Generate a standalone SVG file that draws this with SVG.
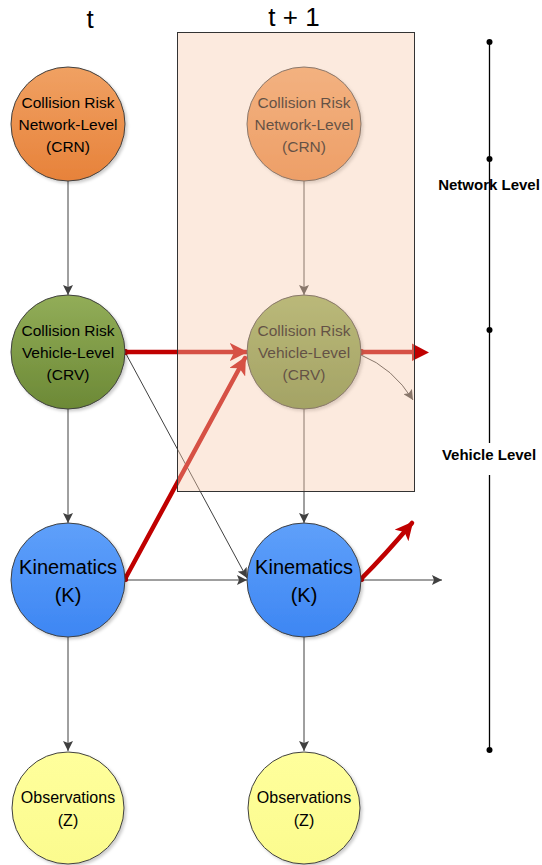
<svg xmlns="http://www.w3.org/2000/svg" width="542" height="865" viewBox="0 0 542 865">
<style>
.lbl{font-family:"Liberation Sans",Arial,sans-serif;fill:#000;text-anchor:middle}
.n{font-size:15.5px}
.k{font-size:20px}
.o{font-size:16px}
.hdr{font-size:26px}
.lvl{font-family:"Liberation Sans",Arial,sans-serif;font-weight:bold;font-size:15px;text-anchor:middle;fill:#000}
.node{stroke:#404040;stroke-width:1;filter:url(#sh)}
.thin{stroke:#404040;stroke-width:1;fill:none;marker-end:url(#ah)}
.red{stroke:#C00000;stroke-width:4.5;fill:none;stroke-linecap:round}
</style>
<defs>
<linearGradient id="gO" x1="0" y1="0" x2="0" y2="1"><stop offset="0" stop-color="#F0A163"/><stop offset="1" stop-color="#E7823A"/></linearGradient>
<linearGradient id="gG" x1="0" y1="0" x2="0" y2="1"><stop offset="0" stop-color="#92AD58"/><stop offset="1" stop-color="#6C8936"/></linearGradient>
<linearGradient id="gB" x1="0" y1="0" x2="0" y2="1"><stop offset="0" stop-color="#5FA0FA"/><stop offset="1" stop-color="#3D86F3"/></linearGradient>
<linearGradient id="gY" x1="0" y1="0" x2="0" y2="1"><stop offset="0" stop-color="#FFFF9C"/><stop offset="1" stop-color="#FBFB8E"/></linearGradient>
<filter id="sh" x="-20%" y="-20%" width="140%" height="140%"><feDropShadow dx="2" dy="2" stdDeviation="1.5" flood-color="#000" flood-opacity="0.2"/></filter>
<marker id="ah" viewBox="0 0 10 10" refX="10" refY="5" markerWidth="10" markerHeight="10" markerUnits="userSpaceOnUse" orient="auto"><path d="M0,0 L10,5 L0,10 L2,5 z" fill="#404040"/></marker>
<marker id="rh" viewBox="0 0 10 10" refX="9" refY="5" markerWidth="4" markerHeight="4" orient="auto"><path d="M0,0 L10,5 L0,10 L2.5,5 z" fill="#C00000"/></marker>
<marker id="rs" viewBox="0 0 10 10" refX="5" refY="5" markerWidth="1.4" markerHeight="1.4"><circle cx="5" cy="5" r="5" fill="#C00000"/></marker>
</defs>
<rect width="542" height="865" fill="#fff"/>

<text class="lbl hdr" x="90" y="28">t</text>
<text class="lbl hdr" x="294" y="26">t + 1</text>

<g id="connectors">
<line class="thin" x1="68" y1="181" x2="68" y2="295"/>
<line class="thin" x1="68" y1="409" x2="68" y2="523"/>
<line class="thin" x1="68" y1="637" x2="68" y2="751"/>
<line class="thin" x1="304" y1="181" x2="304" y2="295"/>
<line class="thin" x1="304" y1="409" x2="304" y2="523"/>
<line class="thin" x1="304" y1="637" x2="304" y2="751"/>
<line class="thin" x1="125" y1="580" x2="247" y2="580"/>
<line class="thin" x1="125" y1="352" x2="247" y2="578"/>
<line class="thin" x1="361" y1="580" x2="442" y2="580"/>
<path class="thin" d="M361,355 Q393,368 413,400"/>
<line class="red" x1="125" y1="352" x2="246" y2="352" marker-start="url(#rs)" marker-end="url(#rh)"/>
<line class="red" x1="125" y1="579" x2="245" y2="358" marker-start="url(#rs)" marker-end="url(#rh)"/>
<line class="red" x1="361" y1="352" x2="414" y2="352" marker-start="url(#rs)"/>
<polygon points="412,343.5 429,352.5 412,361" fill="#C00000"/>
<path class="red" d="M361,579 Q385,555 412,523" marker-start="url(#rs)" marker-end="url(#rh)"/>
</g>

<g id="crn-t"><circle class="node" cx="68" cy="124" r="57" fill="url(#gO)"/>
<text class="lbl n" x="68" y="108">Collision Risk</text><text class="lbl n" x="68" y="130">Network-Level</text><text class="lbl n" x="68" y="152">(CRN)</text></g>
<g id="crv-t"><circle class="node" cx="68" cy="352" r="57" fill="url(#gG)"/>
<text class="lbl n" x="68" y="336">Collision Risk</text><text class="lbl n" x="68" y="358">Vehicle-Level</text><text class="lbl n" x="68" y="380">(CRV)</text></g>
<g id="k-t"><circle class="node" cx="68" cy="580" r="57" fill="url(#gB)"/>
<text class="lbl k" x="68" y="574">Kinematics</text><text class="lbl k" x="68" y="602">(K)</text></g>
<g id="z-t"><circle class="node" cx="68" cy="808" r="56" fill="url(#gY)"/>
<text class="lbl o" x="68" y="803">Observations</text><text class="lbl o" x="68" y="826">(Z)</text></g>

<g id="crn-t1"><circle class="node" cx="304" cy="124" r="57" fill="url(#gO)"/>
<text class="lbl n" x="304" y="108">Collision Risk</text><text class="lbl n" x="304" y="130">Network-Level</text><text class="lbl n" x="304" y="152">(CRN)</text></g>
<g id="crv-t1"><circle class="node" cx="304" cy="352" r="57" fill="url(#gG)"/>
<text class="lbl n" x="304" y="336">Collision Risk</text><text class="lbl n" x="304" y="358">Vehicle-Level</text><text class="lbl n" x="304" y="380">(CRV)</text></g>
<g id="k-t1"><circle class="node" cx="304" cy="580" r="57" fill="url(#gB)"/>
<text class="lbl k" x="304" y="574">Kinematics</text><text class="lbl k" x="304" y="602">(K)</text></g>
<g id="z-t1"><circle class="node" cx="304" cy="808" r="56" fill="url(#gY)"/>
<text class="lbl o" x="304" y="803">Observations</text><text class="lbl o" x="304" y="826">(Z)</text></g>

<g id="slice-box"><rect x="177.5" y="32.5" width="237" height="459" fill="#F8CBAD" fill-opacity="0.4" stroke="#333" stroke-width="1"/></g>

<g id="level-scale">
<line x1="489.5" y1="42" x2="489.5" y2="443" stroke="#000" stroke-width="1.3"/>
<line x1="489.5" y1="475" x2="489.5" y2="750" stroke="#000" stroke-width="1.3"/>
<circle cx="489.5" cy="42" r="3" fill="#000"/>
<circle cx="489.5" cy="159" r="3" fill="#000"/>
<circle cx="489.5" cy="330" r="3" fill="#000"/>
<circle cx="489.5" cy="750" r="3" fill="#000"/>
<text class="lvl" x="489" y="190">Network Level</text>
<text class="lvl" x="489" y="460">Vehicle Level</text>
</g>
</svg>
